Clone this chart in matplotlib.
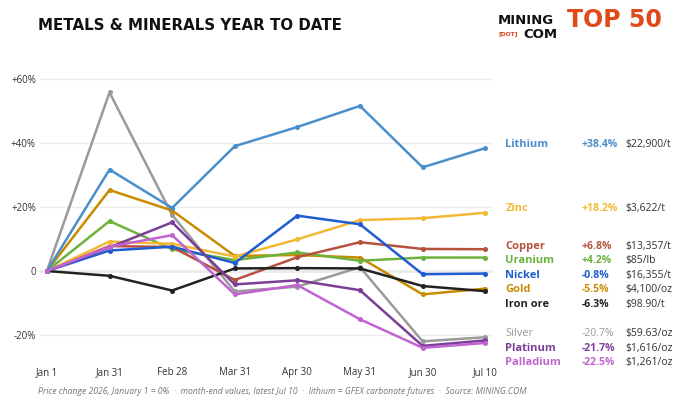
import matplotlib.pyplot as plt

# Data
dates = ["Jan 1", "Jan 31", "Feb 28", "Mar 31", "Apr 30", "May 31", "Jun 30", "Jul 10"]
names = ["Lithium", "Zinc", "Copper", "Uranium", "Nickel", "Gold", "Iron ore", "Silver", "Platinum", "Palladium"]
pct_labels = ["+38.4%", "+18.2%", "+6.8%", "+4.2%", "-0.8%", "-5.5%", "-6.3%", "-20.7%", "-21.7%", "-22.5%"]
prices = ["$22,900/t", "$3,622/t", "$13,357/t", "$85/lb", "$16,355/t", "$4,100/oz", "$98.90/t", "$59.63/oz", "$1,616/oz", "$1,261/oz"]

lithium = [0, 31.7, 19.7, 39.0, 45.0, 51.6, 32.4, 38.4]
zinc = [0, 9.2, 8.5, 4.5, 9.9, 15.9, 16.5, 18.2]
copper = [0, 7.8, 7.5, -2.8, 4.3, 9.0, 6.9, 6.8]
uranium = [0, 15.6, 6.8, 3.4, 5.8, 3.2, 4.2, 4.2]
nickel = [0, 6.4, 7.6, 2.5, 17.3, 14.6, -1.0, -0.8]
gold = [0, 25.3, 18.9, 4.7, 5.0, 4.2, -7.3, -5.5]
iron_ore = [0, -1.5, -6.1, 0.8, 0.9, 0.8, -4.7, -6.3]
silver = [0, 55.8, 17.5, -6.4, -4.9, 1.2, -22.0, -20.7]
platinum = [0, 7.4, 15.2, -4.2, -2.9, -6.0, -23.4, -21.7]
palladium = [0, 7.6, 11.2, -7.3, -4.4, -15.1, -24.0, -22.5]
series = [lithium, zinc, copper, uranium, nickel, gold, iron_ore, silver, platinum, palladium]

# Styling
colors = ["#4a8fcb", "#f1b935", "#b5533f", "#6cb33c", "#1f5ccf", "#c98b00", "#222222", "#9a9a9a", "#7b3e98", "#c064d2"]
name_weight = ["bold"] * 7 + ["normal", "bold", "bold"]
label_y = [39.4, 19.4, 7.8, 3.4, -1.25, -5.9, -10.6, -19.4, -24.1, -28.75]
draw_order = [7, 5, 3, 2, 1, 6, 4, 0, 8, 9]

plt.rcParams['font.family'] = ['Open Sans', 'DejaVu Sans']

fig = plt.figure(figsize=(6.9, 4.07), dpi=100)
ax = fig.add_axes([0.058, 0.1376, 0.657, 0.684])

x = list(range(len(dates)))
for i in draw_order:
    ax.plot(x, series[i], color=colors[i], linewidth=1.8, marker='o', markersize=2.6, zorder=3)

ax.set_xlim(-0.11, 7.13)
ax.set_ylim(-25, 62)
ax.set_yticks([-20, 0, 20, 40, 60])
ax.set_yticklabels(["-20%", "0", "+20%", "+40%", "+60%"])
ax.set_xticks(x)
ax.set_xticklabels(dates)
ax.tick_params(length=0, labelsize=7, colors="#333333")
ax.tick_params(axis='x', pad=11.5)
ax.tick_params(axis='y', pad=3)
for s in ax.spines.values():
    s.set_visible(False)
ax.grid(axis='y', color="#ececec", linewidth=1, zorder=0)
ax.axhline(0, color="#999999", linewidth=1, zorder=1)

# Right-side labels
trans = ax.get_yaxis_transform()
for i, name in enumerate(names):
    ax.text(1.0 + (505 - 493) / 453, label_y[i], name, transform=trans, color=colors[i],
            fontsize=8, fontweight=name_weight[i], va='center', ha='left', clip_on=False)
    ax.text(1.0 + (581 - 493) / 453, label_y[i], pct_labels[i], transform=trans, color=colors[i],
            fontsize=7.5, fontweight=name_weight[i], va='center', ha='left', clip_on=False)
    ax.text(1.0 + (625 - 493) / 453, label_y[i], prices[i], transform=trans, color="#333333",
            fontsize=7.5, va='center', ha='left', clip_on=False)

# Title and logo
fig.text(38 / 690, 1 - 26 / 407, "METALS & MINERALS YEAR TO DATE", fontsize=10.8, fontweight='heavy',
         family=['DejaVu Sans'], color="#111111", va='center', ha='left')
fig.text(498 / 690, 1 - 21 / 407, "MINING", fontsize=9.5, fontweight='heavy', color="#111111",
         va='center', ha='left', family=['DejaVu Sans'])
fig.text(498 / 690, 1 - 34 / 407, "[DOT]", fontsize=4.3, fontweight='bold', color="#d8401a",
         va='center', ha='left', family=['DejaVu Sans'])
fig.text(523 / 690, 1 - 34 / 407, "COM", fontsize=9.5, fontweight='heavy', color="#111111",
         va='center', ha='left', family=['DejaVu Sans'])
fig.text(567 / 690, 1 - 20 / 407, "TOP 50", fontsize=17, fontweight='heavy', color="#e04a1a",
         va='center', ha='left', family=['DejaVu Sans'])

# Footer
fig.text(38 / 690, 1 - 392 / 407,
         "Price change 2026, January 1 = 0%  ·  month-end values, latest Jul 10  ·  lithium = GFEX carbonate futures  ·  Source: MINING.COM",
         fontsize=6.2, style='italic', color="#777777", va='center', ha='left')

fig.savefig("out.png", dpi=100)
